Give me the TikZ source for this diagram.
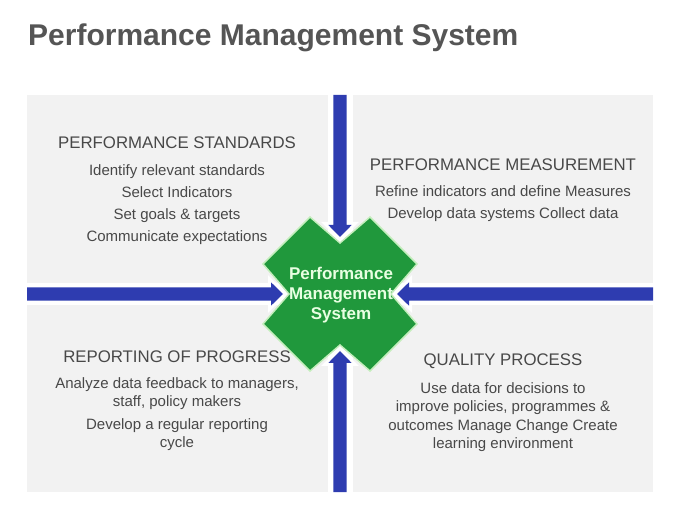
\documentclass[tikz,border=0pt]{standalone}
\usepackage{fontspec}
\setmainfont{Liberation Sans}
\usetikzlibrary{calc}
\definecolor{panelgray}{RGB}{242,242,242}
\definecolor{arrowblue}{RGB}{46,60,176}
\definecolor{pmgreen}{RGB}{32,152,60}
\definecolor{pmedge}{RGB}{196,238,188}
\definecolor{textgray}{RGB}{72,72,72}
\definecolor{titlegray}{RGB}{85,85,85}
\definecolor{pmtext}{RGB}{232,255,226}
\begin{document}
\begin{tikzpicture}[x=1pt,y=-1pt,
  panel/.style={fill=panelgray},
  head/.style={text=textgray,font=\fontsize{16.8}{20}\selectfont,anchor=base,inner sep=0pt},
  body/.style={text=textgray,font=\fontsize{15}{18}\selectfont,anchor=base,inner sep=0pt},
  pics/fatarrow/.style={code={
    \fill[arrowblue,preaction={draw=white,line width=6pt,line join=miter}]
      (0,-6.7) -- (#1-12,-6.7) -- (#1-12,-11.7) -- (#1,0) -- (#1-12,11.7) -- (#1-12,6.7) -- (0,6.7) -- cycle;}}]
\useasboundingbox (0,0) rectangle (680,510);
\fill[white] (0,0) rectangle (680,510);

% title
\node[font=\bfseries\fontsize{30}{36}\selectfont,text=titlegray,anchor=base west,inner sep=0pt] (title) at (28,46) {Performance Management System};

% quadrant panels
\fill[panel] (27,95) rectangle (328,283);
\fill[panel] (353,95) rectangle (653,283);
\fill[panel] (27,305) rectangle (328,492);
\fill[panel] (353,305) rectangle (653,492);

% central cross shape
\coordinate (c) at (340,294);
\begin{scope}[shift={(c)}]
\filldraw[fill=pmgreen,draw=pmedge,line width=1.5pt,line join=miter]
  (0,-51) -- (30,-77) -- (77,-30) -- (51,0) -- (77,30) -- (30,77) -- (0,51)
  -- (-30,77) -- (-77,30) -- (-51,0) -- (-77,-30) -- (-30,-77) -- cycle;
\end{scope}

% arrows
\coordinate (tTail) at (340,95);
\coordinate (bTail) at (340,492);
\coordinate (lTail) at (27,294);
\coordinate (rTail) at (653,294);
\pic[rotate=-90] at (tTail) {fatarrow=142};
\pic[rotate=90] at (bTail) {fatarrow=141};
\pic at (lTail) {fatarrow=256};
\pic[rotate=180] at (rTail) {fatarrow=256};

% centre text
\node[align=center,font=\bfseries\fontsize{17}{20}\selectfont,text=pmtext,inner sep=0pt] (pms) at (341,295.6) {Performance\\Management\\System};

% top left
\node[head] (tlh) at (177,148.5) {PERFORMANCE STANDARDS};
\node[body] (tl1) at (177,175.5) {Identify relevant standards};
\node[body] (tl2) at (177,197.5) {Select Indicators};
\node[body] (tl3) at (177,219.5) {Set goals \& targets};
\node[body] (tl4) at (177,241.5) {Communicate expectations};

% top right
\node[head] (trh) at (503,170.5) {PERFORMANCE MEASUREMENT};
\node[body] (tr1) at (503,196.5) {Refine indicators and define Measures};
\node[body] (tr2) at (503,218.5) {Develop data systems Collect data};

% bottom left
\node[head] (blh) at (177,362.5) {REPORTING OF PROGRESS};
\node[body] (bl1) at (177,388.5) {Analyze data feedback to managers,};
\node[body] (bl2) at (177,406.5) {staff, policy makers};
\node[body] (bl3) at (177,429.5) {Develop a regular reporting};
\node[body] (bl4) at (177,447) {cycle};

% bottom right
\node[head] (brh) at (503,366) {QUALITY PROCESS};
\node[body] (br1) at (503,394) {Use data for decisions to};
\node[body] (br2) at (503,412) {improve policies, programmes \&};
\node[body] (br3) at (503,430) {outcomes Manage Change Create};
\node[body] (br4) at (503,448) {learning environment};
\end{tikzpicture}
\end{document}
